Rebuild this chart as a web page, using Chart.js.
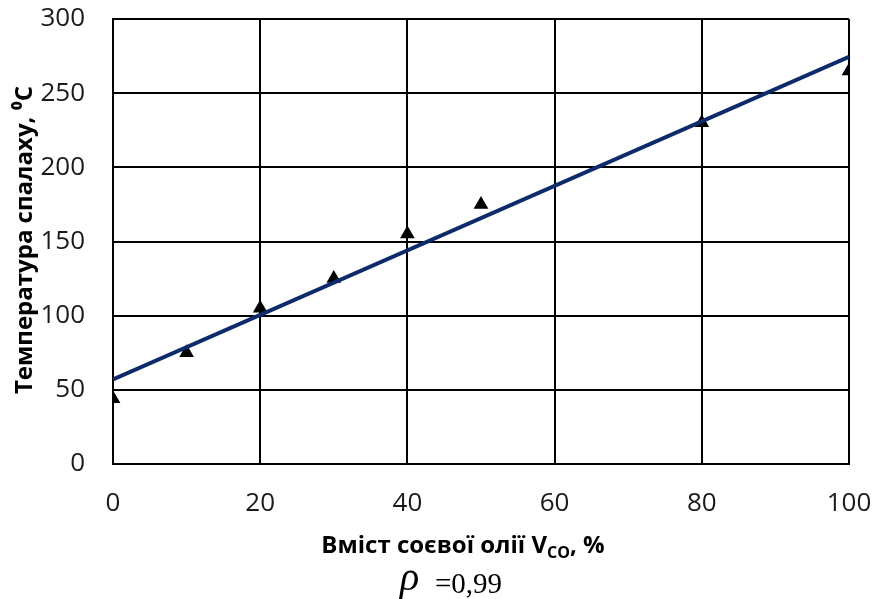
<!DOCTYPE html>
<html><head><meta charset="utf-8">
<script src="https://cdn.jsdelivr.net/npm/chart.js@4"></script>
<style>html,body{margin:0;padding:0;background:#fff}#wrap{width:875px;height:599px;position:relative}</style>
</head><body><div id="wrap"><canvas id="c" width="875" height="599"></canvas></div>
<script>
// ---- data ----
const contentPct = [0, 10, 20, 30, 40, 50, 80, 100];
const flashTemp = [44, 75, 105, 125, 155, 175, 230, 265];
const trendX = [0, 100];
const trendY = [57, 274.5];
const xTicks = [0, 20, 40, 60, 80, 100];
const yTicks = [0, 50, 100, 150, 200, 250, 300];
const yTitle = 'Температура спалаху, ⁰C';
const xTitleMain = 'Вміст соєвої олії V';
const xTitleSub = 'CO';
const xTitleEnd = ', %';
const rhoSymbol = 'ρ';
const rhoText = '=0,99';

const pointsData = contentPct.map((x, i) => ({x, y: flashTemp[i]}));
const trendData = trendX.map((x, i) => ({x, y: trendY[i]}));

const titlesPlugin = {
  id: 'titles',
  afterDraw(chart) {
    const ctx = chart.ctx;
    ctx.save();
    ctx.fillStyle = '#000';
    // y title
    ctx.save();
    ctx.translate(25, 240);
    ctx.rotate(-Math.PI / 2);
    ctx.font = 'bold 24px "Open Sans"';
    ctx.textAlign = 'center';
    ctx.textBaseline = 'middle';
    ctx.fillText(yTitle, 0, 0);
    ctx.restore();
    // x title with subscript
    const mainFont = 'bold 24px "Open Sans"';
    const subFont = 'bold 16px "Open Sans"';
    ctx.font = mainFont;
    const w1 = ctx.measureText(xTitleMain).width;
    const w3 = ctx.measureText(xTitleEnd).width;
    ctx.font = subFont;
    const w2 = ctx.measureText(xTitleSub).width;
    const total = w1 + w2 + w3;
    let x = 463 - total / 2;
    const base = 553;
    ctx.textAlign = 'left';
    ctx.textBaseline = 'alphabetic';
    ctx.font = mainFont;
    ctx.fillText(xTitleMain, x, base);
    x += w1;
    ctx.font = subFont;
    ctx.fillText(xTitleSub, x, base + 5);
    x += w2;
    ctx.font = mainFont;
    ctx.fillText(xTitleEnd, x, base);
    // rho
    ctx.font = 'italic 40px "Liberation Serif"';
    ctx.fillText(rhoSymbol, 400, 590);
    ctx.font = '29px "Liberation Serif"';
    ctx.fillText(rhoText, 435, 593);
    ctx.restore();
  }
};

new Chart(document.getElementById('c'), {
  type: 'scatter',
  data: {
    datasets: [
      {
        data: trendData,
        showLine: true,
        borderColor: '#0d2b6a',
        borderWidth: 4,
        pointRadius: 0,
        fill: false
      },
      {
        data: pointsData,
        pointStyle: 'triangle',
        pointRadius: 8.5,
        backgroundColor: '#000',
        borderColor: '#000',
        borderWidth: 0
      }
    ]
  },
  options: {
    responsive: false,
    animation: false,
    events: [],
    layout: {padding: {left: 0, right: 26, top: 19, bottom: 0}},
    plugins: {legend: {display: false}, tooltip: {enabled: false}},
    scales: {
      x: {
        type: 'linear',
        min: 0, max: 100,
        afterBuildTicks: s => { s.ticks = xTicks.map(v => ({value: v})); },
        afterFit: s => { s.height = 135; s.paddingLeft = 0; s.paddingRight = 0; },
        grid: {color: '#000', lineWidth: 2, drawTicks: false},
        border: {color: '#000', width: 2},
        ticks: {color: '#1a1a1a', font: {family: 'Open Sans', size: 26}, padding: 24, maxRotation: 0}
      },
      y: {
        type: 'linear',
        min: 0, max: 300,
        afterBuildTicks: s => { s.ticks = yTicks.map(v => ({value: v})); },
        afterFit: s => { s.width = 113; s.paddingTop = 0; s.paddingBottom = 0; },
        grid: {color: '#000', lineWidth: 2, drawTicks: false},
        border: {color: '#000', width: 2},
        ticks: {color: '#1a1a1a', font: {family: 'Open Sans', size: 26}, padding: 28}
      }
    }
  },
  plugins: [titlesPlugin]
});
</script></body></html>
